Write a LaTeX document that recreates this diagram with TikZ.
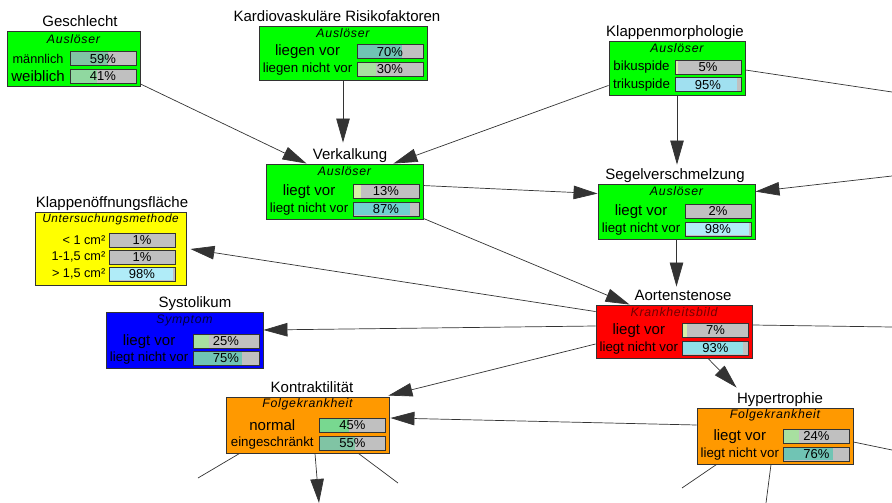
\documentclass[tikz,border=0pt]{standalone}
\usepackage{fontspec}
\setmainfont{Liberation Sans}
\usetikzlibrary{calc}
\usetikzlibrary{arrows.meta}

\definecolor{boxGreen}{RGB}{0,255,0}
\definecolor{boxYellow}{RGB}{255,255,0}
\definecolor{boxBlue}{RGB}{0,0,255}
\definecolor{boxRed}{RGB}{255,0,0}
\definecolor{boxOrange}{RGB}{255,153,0}
\definecolor{barGray}{RGB}{192,192,192}
\definecolor{pTeal}{RGB}{112,196,180}
\definecolor{pSea}{RGB}{128,196,164}
\definecolor{pMint}{RGB}{144,216,160}
\definecolor{pLight}{RGB}{168,224,160}
\definecolor{pPale}{RGB}{216,240,168}
\definecolor{pCyan}{RGB}{112,208,208}
\definecolor{pSky}{RGB}{160,224,240}
\definecolor{pIce}{RGB}{176,236,248}
\definecolor{pAqua}{RGB}{144,224,232}
\definecolor{pGreen}{RGB}{120,216,144}

\begin{document}
\begin{tikzpicture}[x=1pt, y=-1pt,
  netbox/.style={draw=black!80, line width=0.9pt, inner sep=0pt, minimum height=55},
  titletext/.style={font=\fontsize{15}{15}\selectfont, inner sep=0pt, anchor=base},
  headtext/.style={font=\fontsize{12.3}{13}\selectfont\itshape\addfontfeature{LetterSpace=6}, inner sep=0pt},
  rowL/.style={font=\fontsize{15}{15}\selectfont, inner sep=0pt},
  rowM/.style={font=\fontsize{13.3}{14}\selectfont, inner sep=0pt},
  rowS/.style={font=\fontsize{12.7}{13}\selectfont, inner sep=0pt},
  pctbar/.style 2 args={draw=black!80, line width=0.9pt, fill=barGray, minimum width=66, minimum height=14, inner sep=0pt, font=\fontsize{13}{13}\selectfont,
    path picture={\fill[#2] ([shift={(0.5pt,-0.5pt)}]path picture bounding box.north west) rectangle ([shift={(#1*0.65pt,0.5pt)}]path picture bounding box.south west);}},
  link/.style={draw=black!80, line width=0.7pt},
  dep/.style={link, -{Triangle[length=24pt,width=13.5pt]}}]
  \useasboundingbox (0,0) rectangle (892,503);

  % Geschlecht
  \node[netbox, fill=boxGreen, minimum width=133] (gesch) at (73.5,59) {};
  \node[titletext] (geschT) at ($(gesch.north)+(6.5,-4.5)$) {Geschlecht};
  \node[headtext] (geschH) at ($(gesch.north)+(0,8)$) {Auslöser};
  \node[pctbar={59}{pSea}] (geschB1) at ($(gesch.south east)+(-37.5,-28)$) {59\%};
  \node[pctbar={41}{pMint}] (geschB2) at ($(gesch.south east)+(-37.5,-10.5)$) {41\%};
  \node[rowS] (geschR1) at ($(gesch.west |- geschB1)!0.5!(geschB1.west)$) {männlich};
  \node[rowL] (geschR2) at ($(gesch.west |- geschB2)!0.5!(geschB2.west)$) {weiblich};

  % Kardiovaskulaere Risikofaktoren
  \node[netbox, fill=boxGreen, minimum width=168, minimum height=54] (kardio) at (343,53) {};
  \node[titletext] (kardioT) at ($(kardio.north)+(-6,-4)$) {Kardiovaskuläre Risikofaktoren};
  \node[headtext] (kardioH) at ($(kardio.north)+(0,8)$) {Auslöser};
  \node[pctbar={70}{pTeal}] (kardioB1) at ($(kardio.south east)+(-37.5,-28.5)$) {70\%};
  \node[pctbar={30}{pLight}] (kardioB2) at ($(kardio.south east)+(-37.5,-11)$) {30\%};
  \node[rowL] (kardioR1) at ($(kardio.west |- kardioB1)!0.5!(kardioB1.west)$) {liegen vor};
  \node[rowM] (kardioR2) at ($(kardio.west |- kardioB2)!0.5!(kardioB2.west)$) {liegen nicht vor};

  % Klappenmorphologie
  \node[netbox, fill=boxGreen, minimum width=136, minimum height=54] (klmorph) at (677,68) {};
  \node[titletext] (klmorphT) at ($(klmorph.north)+(-2,-4.5)$) {Klappenmorphologie};
  \node[headtext] (klmorphH) at ($(klmorph.north)+(0,8)$) {Auslöser};
  \node[pctbar={5}{pPale}] (klmorphB1) at ($(klmorph.south east)+(-37.5,-28)$) {5\%};
  \node[pctbar={95}{pSky}] (klmorphB2) at ($(klmorph.south east)+(-37.5,-10.5)$) {95\%};
  \node[rowM] (klmorphR1) at ($(klmorph.west |- klmorphB1)!0.5!(klmorphB1.west)$) {bikuspide};
  \node[rowM] (klmorphR2) at ($(klmorph.west |- klmorphB2)!0.5!(klmorphB2.west)$) {trikuspide};

  % Verkalkung
  \node[netbox, fill=boxGreen, minimum width=157] (verk) at (344.5,191.5) {};
  \node[titletext] (verkT) at ($(verk.north)+(5.5,-4.5)$) {Verkalkung};
  \node[headtext] (verkH) at ($(verk.north)+(0,8)$) {Auslöser};
  \node[pctbar={13}{pPale}] (verkB1) at ($(verk.south east)+(-37.5,-28)$) {13\%};
  \node[pctbar={87}{pCyan}] (verkB2) at ($(verk.south east)+(-37.5,-10.5)$) {87\%};
  \node[rowL] (verkR1) at ($(verk.west |- verkB1)!0.5!(verkB1.west)$) {liegt vor};
  \node[rowM] (verkR2) at ($(verk.west |- verkB2)!0.5!(verkB2.west)$) {liegt nicht vor};

  % Segelverschmelzung
  \node[netbox, fill=boxGreen, minimum width=157] (seg) at (676.5,211.5) {};
  \node[titletext] (segT) at ($(seg.north)+(-1.5,-4.5)$) {Segelverschmelzung};
  \node[headtext] (segH) at ($(seg.north)+(0,8)$) {Auslöser};
  \node[pctbar={2}{pPale}] (segB1) at ($(seg.south east)+(-37.5,-28)$) {2\%};
  \node[pctbar={98}{pIce}] (segB2) at ($(seg.south east)+(-37.5,-10.5)$) {98\%};
  \node[rowL] (segR1) at ($(seg.west |- segB1)!0.5!(segB1.west)$) {liegt vor};
  \node[rowM] (segR2) at ($(seg.west |- segB2)!0.5!(segB2.west)$) {liegt nicht vor};

  % Klappenoeffnungsflaeche
  \node[netbox, fill=boxYellow, minimum width=151, minimum height=73] (koef) at (110.5,248.5) {};
  \node[titletext] (koefT) at ($(koef.north)+(1.5,-4.5)$) {Klappenöffnungsfläche};
  \node[headtext, font=\fontsize{11.8}{12}\selectfont\itshape\addfontfeature{LetterSpace=5}] (koefH) at ($(koef.north)+(0,8)$) {Untersuchungsmethode};
  \node[pctbar={1}{pPale}] (koefB1) at ($(koef.south east)+(-44.5,-45.5)$) {1\%};
  \node[pctbar={1}{pPale}] (koefB2) at ($(koef.south east)+(-44.5,-28.5)$) {1\%};
  \node[pctbar={98}{pIce}] (koefB3) at ($(koef.south east)+(-44.5,-11.5)$) {98\%};
  \node[rowS, anchor=east] (koefR1) at ($(koefB1.west)+(-3,0)$) {< 1 cm²};
  \node[rowS, anchor=east] (koefR2) at ($(koefB2.west)+(-3,0)$) {1-1,5 cm²};
  \node[rowS, anchor=east] (koefR3) at ($(koefB3.west)+(-3,0)$) {> 1,5 cm²};

  % Systolikum
  \node[netbox, fill=boxBlue, minimum width=157, minimum height=56] (systol) at (184.5,340) {};
  \node[titletext] (systolT) at ($(systol.north)+(10.5,-4.5)$) {Systolikum};
  \node[headtext, text=blue!25!black] (systolH) at ($(systol.north)+(0,9)$) {Symptom};
  \node[pctbar={25}{pLight}] (systolB1) at ($(systol.south east)+(-37.5,-27)$) {25\%};
  \node[pctbar={75}{pTeal}] (systolB2) at ($(systol.south east)+(-37.5,-10)$) {75\%};
  \node[rowL] (systolR1) at ($(systol.west |- systolB1)!0.5!(systolB1.west)$) {liegt vor};
  \node[rowM] (systolR2) at ($(systol.west |- systolB2)!0.5!(systolB2.west)$) {liegt nicht vor};

  % Aortenstenose
  \node[netbox, fill=boxRed, minimum width=156, minimum height=53] (aorten) at (674,331.5) {};
  \node[titletext] (aortenT) at ($(aorten.north)+(9,-4.5)$) {Aortenstenose};
  \node[headtext, text=red!45!black] (aortenH) at ($(aorten.north)+(0,8)$) {Krankheitsbild};
  \node[pctbar={7}{pPale}] (aortenB1) at ($(aorten.south east)+(-37,-28)$) {7\%};
  \node[pctbar={93}{pAqua}] (aortenB2) at ($(aorten.south east)+(-37,-10.5)$) {93\%};
  \node[rowL] (aortenR1) at ($(aorten.west |- aortenB1)!0.5!(aortenB1.west)$) {liegt vor};
  \node[rowM] (aortenR2) at ($(aorten.west |- aortenB2)!0.5!(aortenB2.west)$) {liegt nicht vor};

  % Kontraktilitaet
  \node[netbox, fill=boxOrange, minimum width=163, minimum height=56] (kontr) at (307.5,425) {};
  \node[titletext] (kontrT) at ($(kontr.north)+(4.5,-4.5)$) {Kontraktilität};
  \node[headtext] (kontrH) at ($(kontr.north)+(0,8)$) {Folgekrankheit};
  \node[pctbar={45}{pGreen}] (kontrB1) at ($(kontr.south east)+(-37,-28)$) {45\%};
  \node[pctbar={55}{pSea}] (kontrB2) at ($(kontr.south east)+(-37,-10)$) {55\%};
  \node[rowL] (kontrR1) at ($(kontr.west |- kontrB1)!0.5!(kontrB1.west)$) {normal};
  \node[rowM] (kontrR2) at ($(kontr.west |- kontrB2)!0.5!(kontrB2.west)$) {eingeschränkt};

  % Hypertrophie
  \node[netbox, fill=boxOrange, minimum width=156, minimum height=56] (hyper) at (775,436) {};
  \node[titletext] (hyperT) at ($(hyper.north)+(5,-4.5)$) {Hypertrophie};
  \node[headtext] (hyperH) at ($(hyper.north)+(0,8)$) {Folgekrankheit};
  \node[pctbar={24}{pLight}] (hyperB1) at ($(hyper.south east)+(-37,-28)$) {24\%};
  \node[pctbar={76}{pTeal}] (hyperB2) at ($(hyper.south east)+(-37,-10.5)$) {76\%};
  \node[rowL] (hyperR1) at ($(hyper.west |- hyperB1)!0.5!(hyperB1.west)$) {liegt vor};
  \node[rowM] (hyperR2) at ($(hyper.west |- hyperB2)!0.5!(hyperB2.west)$) {liegt nicht vor};

  % free ends at the picture border
  \coordinate (offKm) at (892,92);
  \coordinate (offSeg) at (892,176);
  \coordinate (offAo) at (892,327);
  \coordinate (offKo1) at (198,478);
  \coordinate (offKo2) at (319,503);
  \coordinate (offKo3) at (398,483);
  \coordinate (offHy1) at (682,488);
  \coordinate (offHy2) at (766,503);
  \coordinate (offHy3) at (892,450);
  \coordinate (verkTop) at ($(verk.north)+(0,-21)$);
  \coordinate (aortenTop) at ($(aorten.north)+(2,-18)$);

  \draw[dep] ($(gesch.south east)+(0,-3)$) -- ($(verk.north west)+(41,0)$);
  \draw[dep] (kardio.south) -- (kardio.south |- verkTop);
  \draw[dep] ($(klmorph.south west)+(0,-10)$) -- ($(verk.north east)+(-30,0)$);
  \draw[dep] (klmorph.south) -- ($(seg.north)+(0.5,-19)$);
  \draw[link] ($(klmorph.east)+(0,2)$) -- (offKm);
  \draw[dep] (offSeg) -- ($(seg.north east)+(0,8)$);
  \draw[dep] ($(verk.north east)+(0,22)$) -- ($(seg.north west)+(0,10)$);
  \draw[dep] ($(verk.south east)+(0,-1)$) -- ($(aorten.north west)+(34,0)$);
  \draw[dep] (seg.south) -- (seg.south |- aortenTop);
  \draw[dep] ($(aorten.north west)+(0,7)$) -- ($(koef.east)+(4,0.5)$);
  \draw[dep] ($(aorten.west)+(0,-5.5)$) -- ($(systol.east)+(0,-10)$);
  \draw[dep] ($(aorten.west)+(0,12.5)$) -- ($(kontr.north east)+(-1,-1)$);
  \draw[dep] ($(aorten.south)+(34,0)$) -- ($(hyper.north west)+(40,-20)$);
  \draw[link] ($(aorten.east)+(0,-6.5)$) -- (offAo);
  \draw[dep] ($(hyper.west)+(0,-11)$) -- ($(kontr.east)+(1,-7)$);
  \draw[link] ($(kontr.south west)+(14,0)$) -- (offKo1);
  \draw[dep] ($(kontr.south)+(7.5,0)$) -- (offKo2);
  \draw[link] ($(kontr.south east)+(-31,0)$) -- (offKo3);
  \draw[link] ($(hyper.south west)+(20,0)$) -- (offHy1);
  \draw[link] ($(hyper.south)+(-4,0)$) -- (offHy2);
  \draw[link] ($(hyper.east)+(0,6)$) -- (offHy3);
\end{tikzpicture}
\end{document}
